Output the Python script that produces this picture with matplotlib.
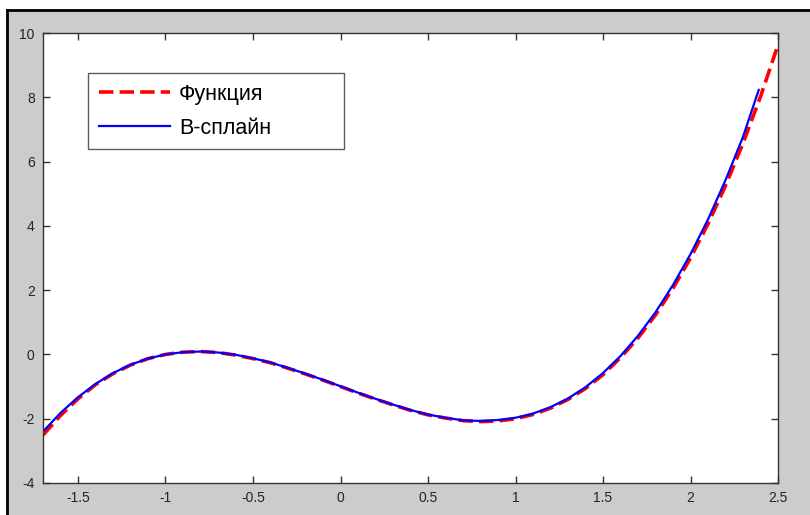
import numpy as np
import matplotlib.pyplot as plt
from matplotlib.patches import Rectangle

# Данные
x_func = [-1.7, -1.6, -1.5, -1.4, -1.3, -1.2, -1.1, -1.0, -0.9, -0.8, -0.7,
          -0.6, -0.5, -0.4, -0.3, -0.2, -0.1, 0.0, 0.1, 0.2, 0.3, 0.4, 0.5,
          0.6, 0.7, 0.8, 0.9, 1.0, 1.1, 1.2, 1.3, 1.4, 1.5, 1.6, 1.7, 1.8,
          1.9, 2.0, 2.1, 2.2, 2.3, 2.4, 2.5]
y_func = [-2.51, -1.90, -1.38, -0.94, -0.60, -0.33, -0.13, 0.00, 0.07, 0.09,
          0.06, -0.02, -0.13, -0.26, -0.43, -0.61, -0.80, -1.00, -1.20, -1.39,
          -1.57, -1.74, -1.88, -1.98, -2.06, -2.09, -2.07, -2.00, -1.87, -1.67,
          -1.40, -1.06, -0.63, -0.10, 0.51, 1.23, 2.06, 3.00, 4.06, 5.25,
          6.57, 8.02, 9.63]

x_spl = [-1.7, -1.6, -1.5, -1.4, -1.3, -1.2, -1.1, -1.0, -0.9, -0.8, -0.7,
         -0.6, -0.5, -0.4, -0.3, -0.2, -0.1, 0.0, 0.1, 0.2, 0.3, 0.4, 0.5,
         0.6, 0.7, 0.8, 0.9, 1.0, 1.1, 1.2, 1.3, 1.4, 1.5, 1.6, 1.7, 1.8,
         1.9, 2.0, 2.1, 2.2, 2.3, 2.39]
y_spl = [-2.40, -1.82, -1.33, -0.92, -0.58, -0.32, -0.13, 0.00, 0.07, 0.09,
         0.06, -0.01, -0.12, -0.25, -0.42, -0.60, -0.79, -0.99, -1.19, -1.38,
         -1.56, -1.73, -1.87, -1.97, -2.05, -2.07, -2.04, -1.97, -1.84, -1.64,
         -1.37, -1.02, -0.58, -0.05, 0.58, 1.31, 2.16, 3.12, 4.20, 5.42,
         6.77, 8.23]

plt.rcParams['font.family'] = ['Liberation Sans', 'DejaVu Sans']
plt.rcParams['axes.unicode_minus'] = False

fig = plt.figure(figsize=(8.1, 5.15), dpi=100)
fig.patch.set_facecolor('white')
# серый фон окна и чёрная рамка скриншота
fig.patches.append(Rectangle((7/810, 0), 1, 1 - 10/515, transform=fig.transFigure,
                             facecolor='#cccccc', edgecolor='none', zorder=-2))
fig.add_artist(plt.Line2D([7/810, 1], [1 - 10/515, 1 - 10/515], color='black',
                          lw=2, transform=fig.transFigure))
fig.add_artist(plt.Line2D([7/810, 7/810], [0, 1 - 10/515], color='black',
                          lw=2, transform=fig.transFigure))

ax = fig.add_axes([43/810, 32/515, 735/810, 450/515])
ax.set_facecolor('white')

ax.plot(x_func, y_func, '--', color='red', lw=2.6, dashes=(4, 1.7), label='Функция')
ax.plot(x_spl, y_spl, '-', color='blue', lw=1.6, label='B-сплайн')

ax.set_xlim(-1.7, 2.5)
ax.set_ylim(-4, 10)
ax.set_xticks([-1.5, -1, -0.5, 0, 0.5, 1, 1.5, 2, 2.5])
ax.set_xticklabels(['-1.5', '-1', '-0.5', '0', '0.5', '1', '1.5', '2', '2.5'])
ax.set_yticks([-4, -2, 0, 2, 4, 6, 8, 10])
ax.tick_params(direction='in', top=True, right=True, length=5, width=1,
               color='#333333', labelcolor='#222233', labelsize=10, pad=6)
for s in ax.spines.values():
    s.set_color('#333333')
    s.set_linewidth(1)

# рамка легенды: x 88..344, y 72..148 пикселей
x0 = (88 - 43) / 735
w = (344 - 88) / 735
y1 = (483 - 73) / 450
h = (148 - 72) / 450
leg = ax.legend(loc='upper left', bbox_to_anchor=(x0, y1 - h, w, h), mode='expand',
                fontsize=15.5, frameon=True, fancybox=False, handlelength=3.3,
                handletextpad=0.42, borderpad=0.5, labelspacing=0.6,
                borderaxespad=0)
leg.get_frame().set_edgecolor('#333333')
leg.get_frame().set_linewidth(1)

fig.savefig('out.png', dpi=100)
